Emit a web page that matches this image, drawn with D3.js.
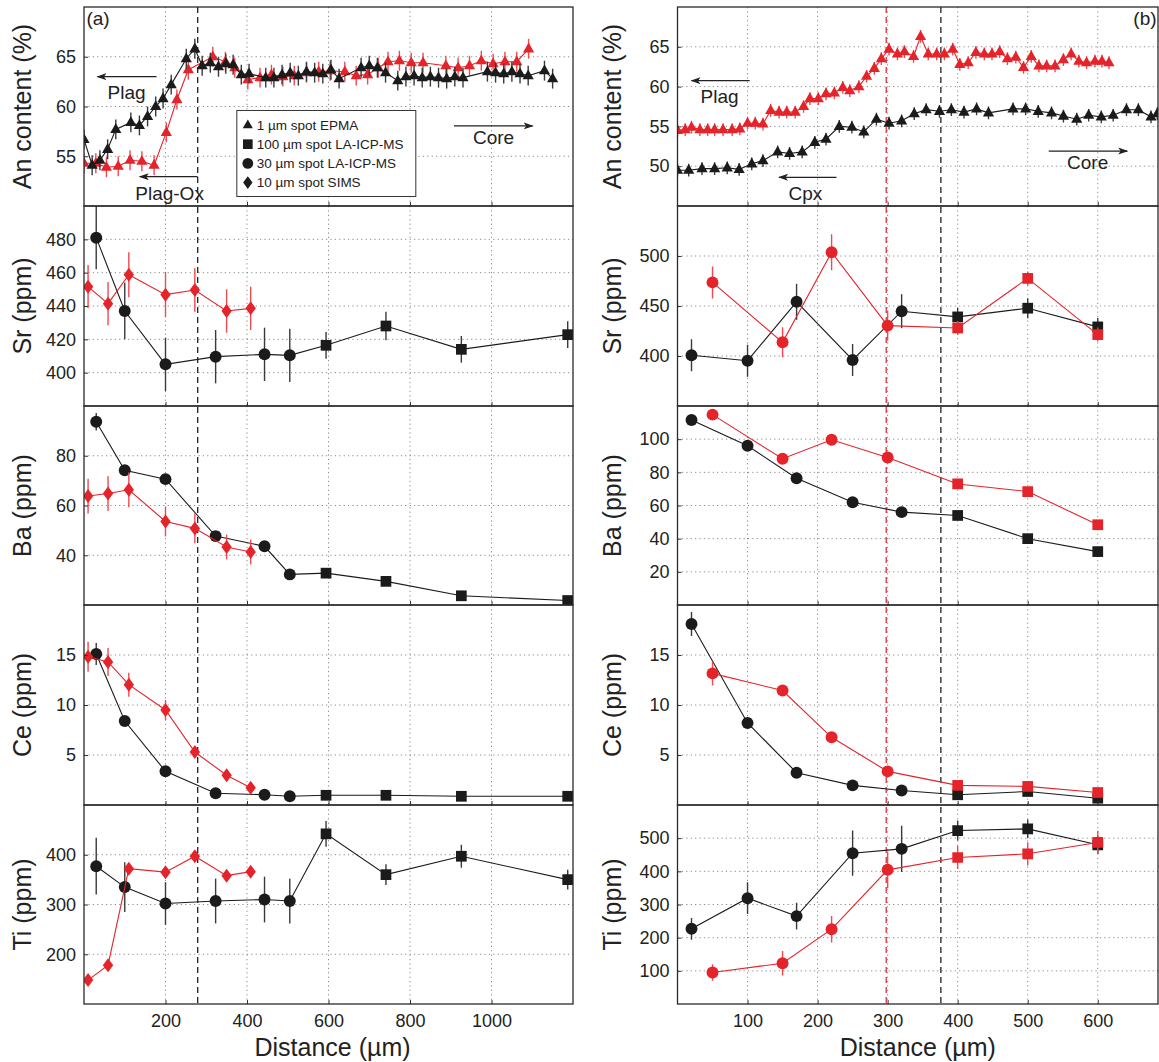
<!DOCTYPE html>
<html><head><meta charset="utf-8">
<script src="https://cdn.jsdelivr.net/npm/d3@7"></script>
<style>
body{margin:0;background:#fff;}
svg{display:block;font-family:"Liberation Sans",Arial,Helvetica,sans-serif;}
.grid{stroke:#8a8a8a;stroke-width:1;stroke-dasharray:1.2,3.2;}
</style>
</head><body><svg id="c" width="1159" height="1062"></svg>
<script>
// ---------- tick labels / domains ----------
const xTicksA = [200, 400, 600, 800, 1000];
const xTicksB = [100, 200, 300, 400, 500, 600];
const xDomA = [0, 1200];
const xDomB = [0, 686];
const anDomA = [50, 70], anTicksA = [55, 60, 65];
const srDomA = [380, 500], srTicksA = [400, 420, 440, 460, 480];
const baDomA = [20, 100], baTicksA = [40, 60, 80];
const ceDomA = [0, 20], ceTicksA = [5, 10, 15];
const tiDomA = [100, 500], tiTicksA = [200, 300, 400];
const anDomB = [45, 70], anTicksB = [50, 55, 60, 65];
const srDomB = [350, 550], srTicksB = [400, 450, 500];
const baDomB = [0, 120], baTicksB = [20, 40, 60, 80, 100];
const ceDomB = [0, 20], ceTicksB = [5, 10, 15];
const tiDomB = [0, 600], tiTicksB = [100, 200, 300, 400, 500];
const rowTitles = ["An content (%)", "Sr (ppm)", "Ba (ppm)", "Ce (ppm)", "Ti (ppm)"];
const boundaryA = 279;          // dashed line, panel (a)
const boundaryBRed = 298;       // red dashed line, panel (b)
const boundaryBBlack = 376;     // black dashed line, panel (b)

// ---------- panel (a) data ----------
const anBlackA = [[0,56.7],[20,54.1],[39,54.6],[58,55.7],[78,57.7],[115,58.4],[136,58.1],[156,59.0],[176,60.0],[194,60.8],[214,62.2],[251,64.8],[272,65.8],[290,64.1],[310,64.4],[330,64.0],[348,64.3],[366,64.2],[386,63.2],[405,63.3],[446,62.9],[466,62.9],[486,63.2],[506,63.4],[526,63.1],[546,63.5],[566,63.4],[586,63.3],[606,63.7],[626,62.8],[680,63.9],[700,64.1],[720,63.9],[740,63.4],[770,62.6],[790,63.0],[810,63.1],[830,62.9],[850,63.0],[870,62.9],[890,62.8],[910,63.0],[930,62.9],[990,63.5],[1010,63.4],[1030,63.3],[1050,63.5],[1070,63.3],[1090,63.1],[1130,63.6],[1150,62.8]];
const anRedA = [[0,54.3],[29,54.3],[55,53.9],[84,54.0],[113,54.6],[142,54.5],[172,54.1],[202,57.4],[228,60.7],[256,63.7],[316,65.0],[347,64.5],[370,63.9],[402,62.7],[432,62.9],[460,63.2],[488,63.0],[516,63.1],[546,63.4],[576,63.5],[604,63.6],[640,63.5],[668,63.1],[696,63.2],[722,63.9],[746,64.5],[774,64.6],[803,64.4],[832,64.4],[888,64.1],[918,63.9],[946,64.1],[975,64.6],[1004,64.3],[1033,64.5],[1062,64.5],[1091,65.8]];
const anErrA = 1.0;

const circleXA = [30, 100, 200, 323, 443, 505];
const squareXA = [594, 741, 926, 1187];
const diamondXA = [10, 59, 110, 200, 272, 350, 409];

const srCircleA = [481, 437, 405, 409.6, 411, 410.4], srCircleErrA = [19, 17, 16, 16, 16, 16];
const srSquareA = [416.4, 428, 414, 422.8], srSquareErrA = [8, 8.5, 8, 8];
const srDiamondA = [451.6, 441.4, 458.8, 446.8, 449.6, 437, 438.6], srDiamondErrA = [13, 13, 13.5, 13.5, 13, 13, 13];

const baCircleA = [93.7, 74.2, 70.6, 47.7, 43.6, 32.3], baCircleErrA = [3.5, 2, 2, 1, 1, 0.8];
const baSquareA = [32.8, 29.5, 23.7, 21.8], baSquareErrA = [0.6, 0.6, 0.5, 0.5];
const baDiamondA = [63.8, 64.8, 66.3, 53.6, 50.8, 43.3, 41.3], baDiamondErrA = [7, 7, 7, 6, 6, 5, 5];

const ceCircleA = [15.1, 8.4, 3.37, 1.17, 1.03, 0.87], ceCircleErrA = [1.1, 0.4, 0.2, 0.1, 0.1, 0.1];
const ceSquareA = [0.97, 0.97, 0.87, 0.87], ceSquareErrA = [0.1, 0.1, 0.1, 0.1];
const ceDiamondA = [14.83, 14.3, 12.03, 9.5, 5.3, 2.97, 1.73], ceDiamondErrA = [1.5, 1.4, 1.2, 1.0, 0.5, 0.4, 0.4];

const tiCircleA = [377, 335, 302, 307, 310, 307], tiCircleErrA = [57, 50, 43, 45, 46, 45];
const tiSquareA = [442, 360, 397, 350], tiSquareErrA = [26, 21, 23, 20];
const tiDiamondA = [148, 178, 372, 365, 397, 358, 366], tiDiamondErrA = [5, 5, 8, 8, 8, 5, 5];

// ---------- panel (b) data ----------
const anRedB = [[0,54.5],[11,54.6],[20,54.9],[32,54.6],[43,54.6],[53,54.6],[65,54.6],[78,54.6],[89,54.7],[100,55.4],[111,55.4],[122,55.3],[133,57.0],[145,56.8],[156,56.8],[168,56.8],[180,57.5],[189,58.5],[201,58.5],[212,59.1],[224,59.2],[236,59.9],[246,59.5],[259,60.0],[270,61.3],[281,62.3],[291,63.5],[302,64.7],[314,64.1],[324,64.4],[337,63.8],[347,66.3],[358,64.1],[370,64.1],[381,64.1],[393,64.7],[403,62.8],[415,63.0],[426,64.3],[438,64.1],[449,64.1],[460,64.4],[471,63.5],[483,63.7],[494,62.4],[505,63.8],[516,62.6],[527,62.6],[539,62.6],[551,63.4],[562,64.1],[573,63.2],[584,63.0],[596,63.2],[606,63.2],[616,63.0]];
const anBlackB = [[0,49.5],[16,49.5],[35,49.7],[53,49.7],[71,49.8],[88,49.6],[106,50.3],[122,50.7],[143,51.8],[160,51.6],[178,51.8],[196,53.0],[212,53.4],[231,55.0],[249,54.9],[266,54.3],[284,55.9],[302,55.4],[320,55.7],[338,56.6],[355,57.1],[374,56.9],[391,57.1],[409,56.8],[427,57.2],[444,56.7],[479,57.2],[497,57.2],[515,56.9],[534,56.7],[551,56.3],[570,55.9],[587,56.4],[605,56.2],[622,56.4],[641,57.1],[658,57.1],[676,56.2],[685,56.6]];
const anErrB = 0.8;

const blackCircleXB = [20, 100, 170, 250, 320];
const redCircleXB = [50, 150, 220, 300];
const squareXB = [400, 500, 600];

const srBlackCircleB = [400.7, 395.3, 454.2, 396, 444.8], srBlackCircleErrB = [16, 16, 18, 16, 17];
const srBlackSquareB = [439.1, 447.8, 429.1], srBlackSquareErrB = [9, 10, 9];
const srRedCircleB = [473.6, 413.7, 503.7, 430.4], srRedCircleErrB = [16, 15, 18, 15];
const srRedSquareB = [428, 477.6, 421.4], srRedSquareErrB = [7, 7, 7];

const baBlackCircleB = [111.6, 96, 76.4, 62, 56], baBlackCircleErrB = [3, 2, 1, 1, 1];
const baBlackSquareB = [54, 40, 32.2], baBlackSquareErrB = [1, 1, 1];
const baRedCircleB = [114.8, 88.2, 99.6, 89], baRedCircleErrB = [3, 2, 2, 2];
const baRedSquareB = [73, 68.4, 48.4], baRedSquareErrB = [1, 1, 1];

const ceBlackCircleB = [18.1, 8.2, 3.23, 1.96, 1.45], ceBlackCircleErrB = [1.2, 0.4, 0.2, 0.1, 0.1];
const ceBlackSquareB = [1.02, 1.35, 0.68], ceBlackSquareErrB = [0.1, 0.1, 0.1];
const ceRedCircleB = [13.16, 11.45, 6.77, 3.36], ceRedCircleErrB = [1.2, 0.4, 0.2, 0.2];
const ceRedSquareB = [1.96, 1.86, 1.25], ceRedSquareErrB = [0.1, 0.1, 0.1];

const tiBlackCircleB = [226.6, 319, 265, 454.8, 467.8], tiBlackCircleErrB = [33, 48, 40, 68, 70];
const tiBlackSquareB = [523, 528, 480], tiBlackSquareErrB = [30, 28, 28];
const tiRedCircleB = [95, 123, 225.6, 404.5], tiRedCircleErrB = [25, 37, 40, 55];
const tiRedSquareB = [441.7, 452.8, 487], tiRedSquareErrB = [35, 35, 35];

const legendLabels = ["1 µm spot EPMA", "100 µm spot LA-ICP-MS", "30 µm spot LA-ICP-MS", "10 µm spot SIMS"];

// ---------- drawing ----------
const BLACK = "#1b1b1b", RED = "#e5232b", EBLACK = "#3a3a3a", ERED = "#ee4a50";
const svg = d3.select("#c");
const defs = svg.append("defs");
const rowTop = [7, 206, 406, 605, 805], rowBot = [206, 406, 605, 805, 1004];
const cols = [
  {x0: 84, x1: 573, dom: xDomA, ticks: xTicksA, titleX: 31},
  {x0: 677.5, x1: 1158, dom: xDomB, ticks: xTicksB, titleX: 621}
];
const layerGrid = svg.append("g");
const layerDash = svg.append("g");
const layerData = svg.append("g");
const layerFrame = svg.append("g");
const layerAnno = svg.append("g");

function makePanel(ci, ri, yDom, yTicks) {
  const c = cols[ci], top = rowTop[ri], bot = rowBot[ri];
  const x = d3.scaleLinear().domain(c.dom).range([c.x0, c.x1]);
  const y = d3.scaleLinear().domain(yDom).range([bot, top]);
  const id = "clip" + ci + ri;
  defs.append("clipPath").attr("id", id).append("rect")
    .attr("x", c.x0).attr("y", top).attr("width", c.x1 - c.x0).attr("height", bot - top);
  const g = layerGrid.append("g");
  g.selectAll(null).data(c.ticks).join("line").attr("class", "grid")
    .attr("x1", d => x(d)).attr("x2", d => x(d)).attr("y1", top).attr("y2", bot);
  g.selectAll(null).data(yTicks).join("line").attr("class", "grid")
    .attr("x1", c.x0).attr("x2", c.x1).attr("y1", d => y(d)).attr("y2", d => y(d));
  const ay = layerFrame.append("g").attr("transform", `translate(${c.x0},0)`)
    .call(d3.axisLeft(y).tickValues(yTicks).tickSize(-4).tickPadding(8).tickFormat(d3.format("d")));
  const ax = layerFrame.append("g").attr("transform", `translate(0,${bot})`)
    .call(d3.axisBottom(x).tickValues(c.ticks).tickSize(-4).tickPadding(10)
      .tickFormat(ri === 4 ? d3.format("d") : () => ""));
  [ay, ax].forEach(a => {
    a.select(".domain").remove();
    a.selectAll(".tick line").attr("stroke", "#333");
    a.selectAll("text").attr("font-size", 18).attr("fill", "#222")
      .attr("font-family", '"Liberation Sans",Arial,sans-serif');
  });
  layerFrame.append("rect").attr("x", c.x0).attr("y", top).attr("width", c.x1 - c.x0)
    .attr("height", bot - top).attr("fill", "none").attr("stroke", "#2a2a2a").attr("stroke-width", 1.3);
  layerFrame.append("text")
    .attr("transform", `translate(${c.titleX},${(top + bot) / 2}) rotate(-90)`)
    .attr("text-anchor", "middle").attr("font-size", 25).attr("fill", "#222")
    .text(rowTitles[ri]);
  const plot = layerData.append("g").attr("clip-path", `url(#${id})`);
  return {x, y, plot, top, bot, c};
}

function shapePath(shape) {
  if (shape === "circle") return d3.symbol(d3.symbolCircle, 112)();
  if (shape === "square") return d3.symbol(d3.symbolSquare, 115)();
  if (shape === "diamond") return "M0,-7L5.2,0L0,7L-5.2,0Z";
  return "M0,-6.2L5.6,3.6L-5.6,3.6Z"; // triangle
}

function toPts(xs, ys, es) { return xs.map((d, i) => ({x: d, y: ys[i], e: es ? es[i] : 0})); }
function pairPts(arr, e) { return arr.map(d => ({x: d[0], y: d[1], e})); }

// groups: array of {pts, shape}; one connecting line through all
function drawGroup(P, groups, color, ecolor) {
  const all = groups.flatMap(g => g.pts);
  P.plot.append("path").datum(all)
    .attr("d", d3.line().x(d => P.x(d.x)).y(d => P.y(d.y)))
    .attr("fill", "none").attr("stroke", color).attr("stroke-width", 1.1);
  P.plot.selectAll(null).data(all.filter(d => d.e > 0)).join("line")
    .attr("x1", d => P.x(d.x)).attr("x2", d => P.x(d.x))
    .attr("y1", d => P.y(d.y - d.e)).attr("y2", d => P.y(d.y + d.e))
    .attr("stroke", ecolor).attr("stroke-width", 1.4);
  groups.forEach(g => {
    P.plot.selectAll(null).data(g.pts).join("path")
      .attr("d", shapePath(g.shape))
      .attr("transform", d => `translate(${P.x(d.x)},${P.y(d.y)})`)
      .attr("fill", color);
  });
}

// ----- build panels -----
const A = [
  makePanel(0, 0, anDomA, anTicksA), makePanel(0, 1, srDomA, srTicksA),
  makePanel(0, 2, baDomA, baTicksA), makePanel(0, 3, ceDomA, ceTicksA),
  makePanel(0, 4, tiDomA, tiTicksA)
];
const B = [
  makePanel(1, 0, anDomB, anTicksB), makePanel(1, 1, srDomB, srTicksB),
  makePanel(1, 2, baDomB, baTicksB), makePanel(1, 3, ceDomB, ceTicksB),
  makePanel(1, 4, tiDomB, tiTicksB)
];

// dashed boundaries
function dashed(P, v, color) {
  layerDash.append("line").attr("x1", P.x(v)).attr("x2", P.x(v))
    .attr("y1", rowTop[0]).attr("y2", rowBot[4])
    .attr("stroke", color).attr("stroke-width", 1.3).attr("stroke-dasharray", "6,4");
}
dashed(A[0], boundaryA, "#222");
dashed(B[0], boundaryBRed, "#d8303a");
dashed(B[0], boundaryBBlack, "#222");

// panel (a)
drawGroup(A[0], [{pts: pairPts(anRedA, anErrA), shape: "triangle"}], RED, ERED);
drawGroup(A[0], [{pts: pairPts(anBlackA, anErrA), shape: "triangle"}], BLACK, EBLACK);
const aSets = [
  [srCircleA, srCircleErrA, srSquareA, srSquareErrA, srDiamondA, srDiamondErrA],
  [baCircleA, baCircleErrA, baSquareA, baSquareErrA, baDiamondA, baDiamondErrA],
  [ceCircleA, ceCircleErrA, ceSquareA, ceSquareErrA, ceDiamondA, ceDiamondErrA],
  [tiCircleA, tiCircleErrA, tiSquareA, tiSquareErrA, tiDiamondA, tiDiamondErrA]
];
aSets.forEach((s, i) => {
  const P = A[i + 1];
  drawGroup(P, [{pts: toPts(circleXA, s[0], s[1]), shape: "circle"},
                {pts: toPts(squareXA, s[2], s[3]), shape: "square"}], BLACK, EBLACK);
  drawGroup(P, [{pts: toPts(diamondXA, s[4], s[5]), shape: "diamond"}], RED, ERED);
});

// panel (b)
drawGroup(B[0], [{pts: pairPts(anBlackB, anErrB), shape: "triangle"}], BLACK, EBLACK);
drawGroup(B[0], [{pts: pairPts(anRedB, anErrB), shape: "triangle"}], RED, ERED);
const bSets = [
  [srBlackCircleB, srBlackCircleErrB, srBlackSquareB, srBlackSquareErrB, srRedCircleB, srRedCircleErrB, srRedSquareB, srRedSquareErrB],
  [baBlackCircleB, baBlackCircleErrB, baBlackSquareB, baBlackSquareErrB, baRedCircleB, baRedCircleErrB, baRedSquareB, baRedSquareErrB],
  [ceBlackCircleB, ceBlackCircleErrB, ceBlackSquareB, ceBlackSquareErrB, ceRedCircleB, ceRedCircleErrB, ceRedSquareB, ceRedSquareErrB],
  [tiBlackCircleB, tiBlackCircleErrB, tiBlackSquareB, tiBlackSquareErrB, tiRedCircleB, tiRedCircleErrB, tiRedSquareB, tiRedSquareErrB]
];
bSets.forEach((s, i) => {
  const P = B[i + 1];
  drawGroup(P, [{pts: toPts(blackCircleXB, s[0], s[1]), shape: "circle"},
                {pts: toPts(squareXB, s[2], s[3]), shape: "square"}], BLACK, EBLACK);
  drawGroup(P, [{pts: toPts(redCircleXB, s[4], s[5]), shape: "circle"},
                {pts: toPts(squareXB, s[6], s[7]), shape: "square"}], RED, ERED);
});

// x-axis titles
[A[4], B[4]].forEach(P => {
  layerFrame.append("text").attr("x", (P.c.x0 + P.c.x1) / 2 - (P === A[4] ? -4 : 0)).attr("y", 1056)
    .attr("text-anchor", "middle").attr("font-size", 25).attr("fill", "#222").text("Distance (µm)");
});

// ---------- annotations ----------
defs.append("marker").attr("id", "arr").attr("viewBox", "0 0 10 8").attr("refX", 9).attr("refY", 4)
  .attr("markerWidth", 10).attr("markerHeight", 8).attr("markerUnits", "userSpaceOnUse").attr("orient", "auto")
  .append("path").attr("d", "M0,0.5L10,4L0,7.5L2.5,4Z").attr("fill", "#222");

function arrow(P, xa, xb, yv) {
  layerAnno.append("line").attr("x1", P.x(xa)).attr("x2", P.x(xb)).attr("y1", P.y(yv)).attr("y2", P.y(yv))
    .attr("stroke", "#222").attr("stroke-width", 1.2).attr("marker-end", "url(#arr)");
}
function label(P, xv, yv, txt, anchor, size) {
  layerAnno.append("text").attr("x", P.x(xv)).attr("y", P.y(yv)).attr("text-anchor", anchor || "middle")
    .attr("font-size", size || 19).attr("fill", "#222").text(txt);
}
label(A[0], 6, 68.2, "(a)", "start", 19);
arrow(A[0], 178, 33, 63.0);
label(A[0], 104.5, 60.75, "Plag");
arrow(A[0], boundaryA, 137, 52.95);
label(A[0], 210, 50.6, "Plag-Ox");
arrow(A[0], 908, 1101, 58.05);
label(A[0], 1005, 56.25, "Core");

label(B[0], 684, 67.7, "(b)", "end", 19);
arrow(B[0], 103, 20, 60.75);
label(B[0], 60, 58.0, "Plag");
arrow(B[0], 227, 145, 48.6);
label(B[0], 182.6, 45.75, "Cpx");
arrow(B[0], 530, 642, 51.9);
label(B[0], 585.6, 49.6, "Core");

// legend (panel a, top)
const lg = layerAnno.append("g").attr("transform", `translate(${A[0].x(375)},${A[0].y(59.6)})`);
lg.append("rect").attr("x", 0).attr("y", 0).attr("width", 179).attr("height", 86)
  .attr("fill", "#fff").attr("stroke", "#333").attr("stroke-width", 1);
const legShapes = ["triangle", "square", "circle", "diamond"];
legendLabels.forEach((t, i) => {
  const yy = 14.5 + i * 19.2;
  lg.append("path").attr("d", shapePath(legShapes[i])).attr("transform", `translate(11,${yy}) scale(0.9)`).attr("fill", BLACK);
  lg.append("text").attr("x", 20).attr("y", yy).attr("dy", "0.36em").attr("font-size", 13.5).attr("fill", "#222").text(t);
});
</script>
</body></html>
